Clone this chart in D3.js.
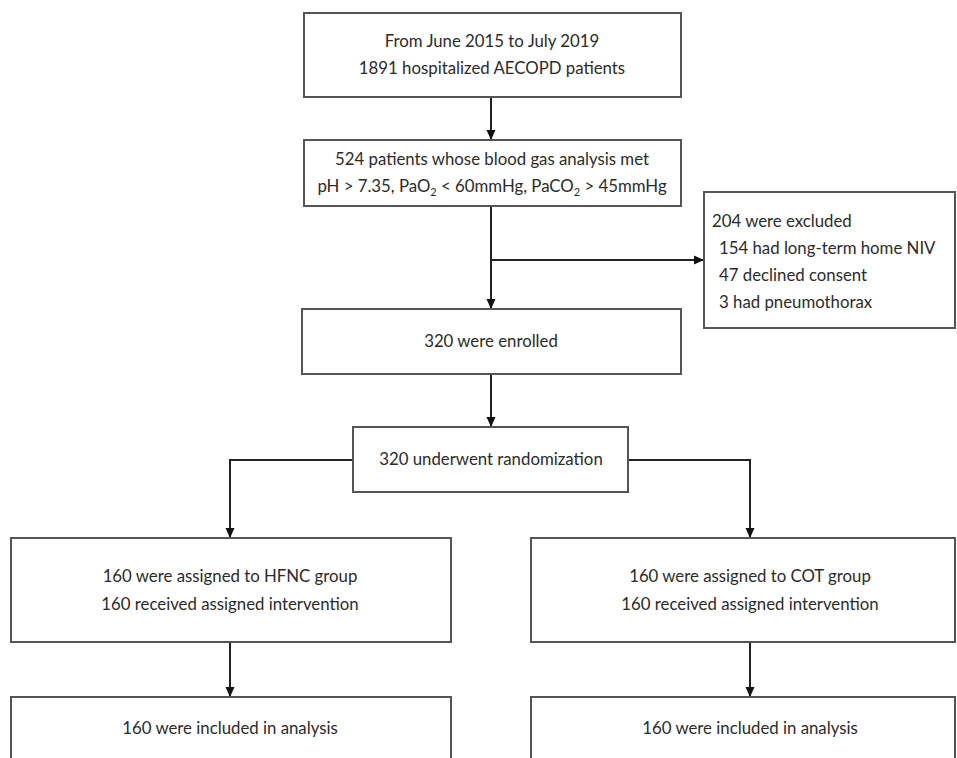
<!DOCTYPE html>
<html>
<head>
<meta charset="utf-8">
<script src="https://cdn.jsdelivr.net/npm/d3@7"></script>
<style>
  body { margin: 0; background: #fff; }
  text { font-family: Lato, "Open Sans", sans-serif; fill: #2b2b2b; }
</style>
</head>
<body>
<script>
// box texts (one array per box)
const screened = ["From June 2015 to July 2019", "1891 hospitalized AECOPD patients"];
const eligible = ["524 patients whose blood gas analysis met", "pH > 7.35, PaO|2| < 60mmHg, PaCO|2| > 45mmHg"];
const excluded = ["204 were excluded", "154 had long-term home NIV", "47 declined consent", "3 had pneumothorax"];
const enrolled = ["320 were enrolled"];
const randomized = ["320 underwent randomization"];
const hfncArm = ["160 were assigned to HFNC group", "160 received assigned intervention"];
const cotArm = ["160 were assigned to COT group", "160 received assigned intervention"];
const hfncAnalysed = ["160 were included in analysis"];
const cotAnalysed = ["160 were included in analysis"];

// layout of the boxes (pixels)
const boxes = [
  {lines: screened,     x0: 304, x1: 681, y0: 13,  y1: 97,  cx: 492, gap: 27},
  {lines: eligible,     x0: 304, x1: 681, y0: 140, y1: 206, cx: 492, gap: 27},
  {lines: excluded,     x0: 704, x1: 955, y0: 192, y1: 328, left: 712, indent: 7},
  {lines: enrolled,     x0: 302, x1: 681, y0: 309, y1: 374, cx: 491},
  {lines: randomized,   x0: 353, x1: 628, y0: 427, y1: 492, cx: 491},
  {lines: hfncArm,      x0: 11,  x1: 451, y0: 538, y1: 642, cx: 230, gap: 28},
  {lines: cotArm,       x0: 531, x1: 955, y0: 538, y1: 642, cx: 750, gap: 28},
  {lines: hfncAnalysed, x0: 11,  x1: 451, y0: 697, y1: 780, cx: 230, ty: 734},
  {lines: cotAnalysed,  x0: 531, x1: 955, y0: 697, y1: 780, cx: 750, ty: 734}
];

// connectors, each is a polyline ending in an arrowhead
const arrows = [
  [[491, 97], [491, 140]],
  [[491, 206], [491, 309]],
  [[491, 260], [704, 260]],
  [[491, 374], [491, 427]],
  [[353, 460], [230, 460], [230, 538]],
  [[628, 460], [750, 460], [750, 538]],
  [[230, 642], [230, 697]],
  [[750, 642], [750, 697]]
];

const width = 957, height = 758;
const fontSize = 16.8;

const svg = d3.select("body").append("svg")
    .attr("width", width)
    .attr("height", height);

svg.append("defs").append("marker")
    .attr("id", "head")
    .attr("viewBox", "0 0 10 10")
    .attr("refX", 10).attr("refY", 5)
    .attr("markerWidth", 10).attr("markerHeight", 10)
    .attr("markerUnits", "userSpaceOnUse")
    .attr("orient", "auto")
  .append("path")
    .attr("d", "M0,0.5 L10,5 L0,9.5 Z")
    .attr("fill", "#111");

const line = d3.line();

svg.selectAll("path.link")
    .data(arrows)
    .enter().append("path")
    .attr("class", "link")
    .attr("d", line)
    .attr("fill", "none")
    .attr("stroke", "#222")
    .attr("stroke-width", 2)
    .attr("marker-end", "url(#head)");

const g = svg.selectAll("g.box")
    .data(boxes)
    .enter().append("g")
    .attr("class", "box");

g.append("rect")
    .attr("x", d => d.x0)
    .attr("y", d => d.y0)
    .attr("width", d => d.x1 - d.x0)
    .attr("height", d => d.y1 - d.y0)
    .attr("fill", "#fff")
    .attr("stroke", "#555")
    .attr("stroke-width", 2);

g.each(function(d) {
  const n = d.lines.length;
  const gap = d.gap || 27;
  const mid = d.ty !== undefined ? d.ty - fontSize * 0.35 : (d.y0 + d.y1) / 2;
  d.lines.forEach(function(s, i) {
    let baseline = mid + (i - (n - 1) / 2) * gap + fontSize * 0.35;
    if (d.left !== undefined) baseline = d.y0 + 35 + i * 27;
    const t = d3.select(this).append("text")
        .attr("y", baseline)
        .style("font-size", fontSize + "px");
    if (d.left !== undefined) {
      t.attr("x", d.left + (i > 0 ? d.indent : 0)).attr("text-anchor", "start");
    } else {
      t.attr("x", d.cx).attr("text-anchor", "middle");
    }
    s.split("|").forEach(function(part, k) {
      const sp = t.append("tspan").text(part);
      if (k % 2 === 1) sp.attr("dy", 4).style("font-size", "11px");
      else if (k > 0) sp.attr("dy", -4);
    });
  }, this);
});
</script>
</body>
</html>
